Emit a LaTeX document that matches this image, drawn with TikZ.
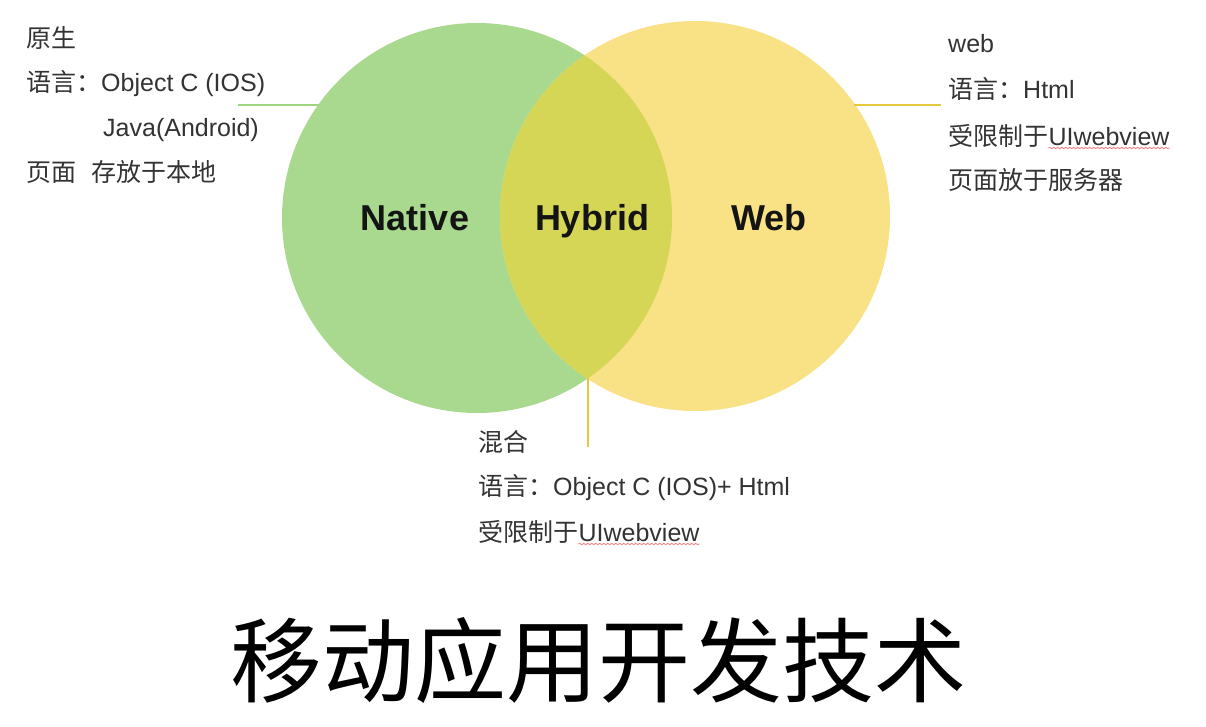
\documentclass[tikz,border=0pt]{standalone}
\usepackage{fontspec}
\setmainfont{Liberation Sans}
\newfontfamily\cjk{Noto Sans CJK SC}
\usetikzlibrary{decorations.pathmorphing}
\definecolor{natgreen}{HTML}{A9D98F}
\definecolor{webyellow}{HTML}{F8E285}
\definecolor{hybcol}{HTML}{D5D556}
\definecolor{greenline}{HTML}{9FD47F}
\definecolor{yellowline}{HTML}{E6C83C}
\definecolor{textgray}{HTML}{333333}
\definecolor{squiggle}{HTML}{F08080}
\tikzset{
  blob/.style={circle, inner sep=0pt, minimum size=390pt},
  txt/.style={anchor=base west, inner sep=0pt, font=\fontsize{25}{30}\selectfont, text=textgray},
  biglabel/.style={anchor=base, inner sep=0pt, font=\fontsize{36}{40}\selectfont\bfseries, text=black!92},
  lead/.style={line width=2.5pt},
  spell/.style={draw=squiggle, line width=0.8pt, decorate, decoration={snake, amplitude=0.7pt, segment length=4pt}},
}
\begin{document}
\begin{tikzpicture}[x=1pt,y=-1pt]
\useasboundingbox (0,0) rectangle (1206,726);
\fill[white] (0,0) rectangle (1206,726);

% circles
\node[blob, fill=natgreen] (native) at (477,218) {};
\node[blob, fill=webyellow] (web) at (695,216) {};
\begin{scope}
  \clip (477,218) circle (195pt);
  \fill[hybcol] (695,216) circle (195pt);
\end{scope}

% big labels
\node[biglabel] (lnative) at (415,230) {Native};
\node[biglabel] (lhybrid) at (592,230) {Hybrid};
\node[biglabel] (lweb) at (769,230) {Web};

% leader lines
\coordinate (gl) at (238,105);
\coordinate (glend) at (319,105);
\coordinate (yl) at (941,105);
\coordinate (ylend) at (854,105);
\coordinate (vtop) at (588,378);
\coordinate (vbot) at (588,447);
\draw[lead, greenline] (gl) -- (glend);
\draw[lead, yellowline] (ylend) -- (yl);
\draw[lead, yellowline] (vtop) -- (vbot);

% left block
\node[txt] (n1) at (26,47) {\cjk 原生};
\node[txt] (n2) at (26,91) {{\cjk 语言：}Object C (IOS)};
\node[txt] (n3) at (103,136) {Java(Android)};
\node[txt] (n4) at (26,181) {{\cjk 页面}\hspace{0.6em}{\cjk 存放于本地}};

% right block
\node[txt] (w1) at (948,52) {web};
\node[txt] (w2) at (948,98) {{\cjk 语言：}Html};
\node[txt] (w3) at (948,145) {\cjk 受限制于};
\node[txt] (w3b) at (w3.base east) {UIwebview};
\node[txt] (w4) at (948,189) {\cjk 页面放于服务器};
\draw[spell] ([yshift=-3pt]w3b.base west) -- ([yshift=-3pt]w3b.base east);

% bottom block
\node[txt] (h1) at (478,451) {\cjk 混合};
\node[txt] (h2) at (478,495) {{\cjk 语言：}Object C (IOS)+ Html};
\node[txt] (h3) at (478,541) {\cjk 受限制于};
\node[txt] (h3b) at (h3.base east) {UIwebview};
\draw[spell] ([yshift=-3pt]h3b.base west) -- ([yshift=-3pt]h3b.base east);

% title
\node[anchor=base, inner sep=0pt, font=\cjk\fontsize{92}{100}\selectfont] (title) at (598,695) {移动应用开发技术};
\end{tikzpicture}
\end{document}
